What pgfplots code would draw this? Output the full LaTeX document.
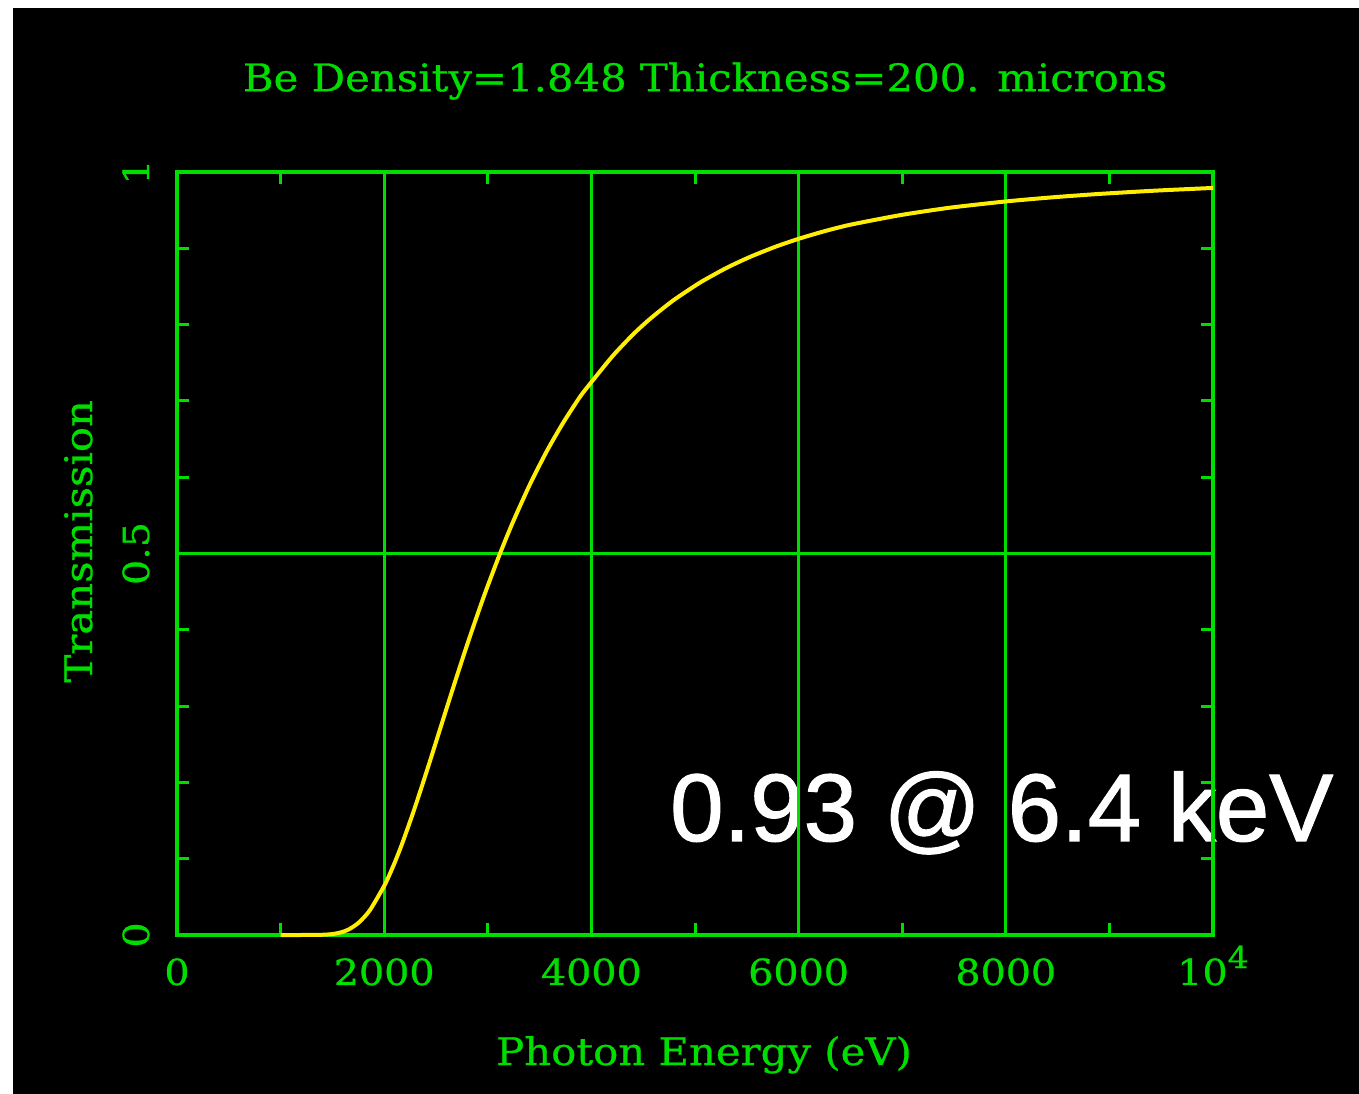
\documentclass[border=0pt]{standalone}
\usepackage{fontspec}
\setmainfont{DejaVu Serif}[FakeStretch=1.1, FakeBold=0.8]
\newfontfamily\labelfont{Liberation Sans}[FakeBold=1.2]
\usepackage{pgfplots}
\pgfplotsset{compat=1.18}
\definecolor{pgreen}{RGB}{0,222,0}
\definecolor{pyellow}{RGB}{255,238,0}
\pgfplotstableread{
E T
1000 0
1200 0
1400 0.0003
1500 0.0012
1593 0.0038
1670 0.0082
1760 0.0169
1863 0.0327
2008 0.0665
2100 0.0944
2172 0.1193
2278 0.1598
2365 0.1955
2442 0.2280
2539 0.2698
2616 0.3029
2683 0.3315
2761 0.3641
2857 0.4030
2973 0.4479
3118 0.5000
3243 0.5414
3407 0.5907
3571 0.6345
3726 0.6710
3890 0.7054
4006 0.7256
4208 0.7593
4402 0.7871
4566 0.8075
4788 0.8315
5048 0.8550
5300 0.8740
5531 0.8887
5780 0.9022
6014 0.9130
6250 0.9224
6496 0.9308
6979 0.9434
7461 0.9532
8000 0.9614
8450 0.9668
8909 0.9713
9450 0.9756
10000 0.9791
}\betable
\begin{document}
\begin{tikzpicture}[x=1pt,y=1pt]
\fill[white] (0,0) rectangle (1359,1094);
\fill[black] (13,0) rectangle (1359,1086);
\node[anchor=base west, inner sep=0pt, text=white, font=\labelfont\fontsize{96}{100}\selectfont] at (670,253) {0.93 @ 6.4 keV};
\begin{axis}[
  at={(177pt,159pt)}, anchor=south west,
  scale only axis, width=1036pt, height=763pt,
  xmin=0, xmax=10000, ymin=0, ymax=1,
  clip=false,
  scaled x ticks=false, scaled y ticks=false,
  axis line style={pgreen, line width=3.5pt},
  xtick={0,2000,4000,6000,8000,10000},
  xticklabels={0,2000,4000,6000,8000,{10\raisebox{17pt}{\fontsize{30}{32}\selectfont 4}}},
  minor xtick={1000,3000,5000,7000,9000},
  ytick={0,0.5,1},
  yticklabels={0,0.5,1},
  minor ytick={0.1,0.2,0.3,0.4,0.6,0.7,0.8,0.9},
  xtick pos=both, ytick pos=both,
  tick align=inside,
  major tick length=12pt, minor tick length=12pt,
  every tick/.style={pgreen, line width=3pt},
  grid=major,
  major grid style={pgreen, line width=3pt},
  ticklabel style={font=\fontsize{36}{40}\selectfont, text=pgreen},
  xticklabel style={anchor=base, inner sep=0pt},
  xticklabel shift=50pt,
  yticklabel style={rotate=90, anchor=base, inner sep=0pt},
  yticklabel shift=28pt,
  title={Be Density=1.848 Thickness=200. microns},
  title style={at={(0.5097,1.098)}, anchor=base, inner sep=0pt, text=pgreen, font=\fontsize{38}{40}\selectfont},
  xlabel={Photon Energy (eV)},
  xlabel style={at={(0.5087,-0.1704)}, anchor=base, inner sep=0pt, text=pgreen, font=\fontsize{38}{40}\selectfont},
  ylabel={Transmission},
  ylabel style={at={(-0.082,0.516)}, anchor=base, inner sep=0pt, text=pgreen, font=\fontsize{38}{40}\selectfont},
]
\addplot[pyellow, line width=4pt, smooth, tension=0.4] table[x=E, y=T] {\betable};
\end{axis}
\end{tikzpicture}
\end{document}
